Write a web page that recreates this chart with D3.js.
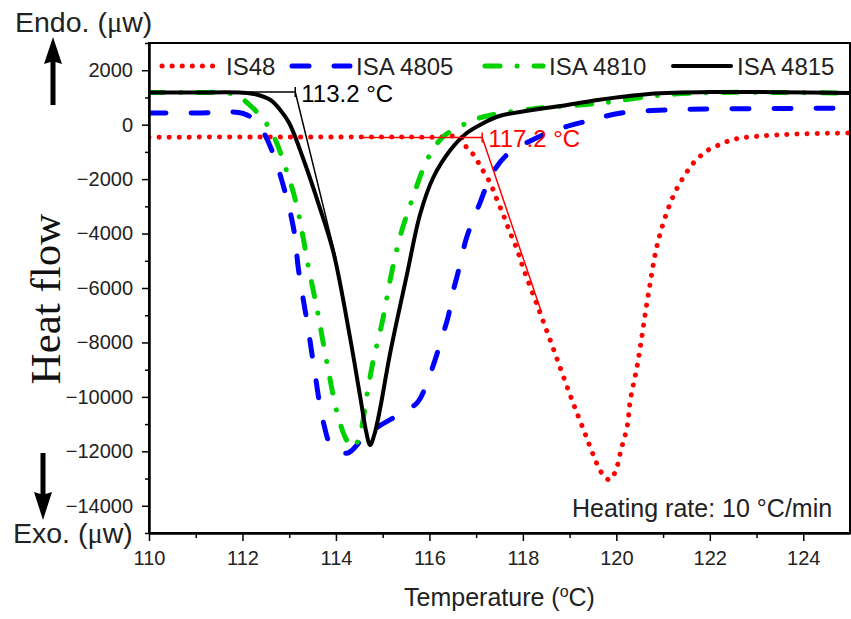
<!DOCTYPE html>
<html>
<head>
<meta charset="utf-8">
<script src="https://cdn.jsdelivr.net/npm/d3@7"></script>
<style>
  body { margin: 0; background: #fff; }
  text { font-family: "Liberation Sans", Arial, sans-serif; }
</style>
</head>
<body>
<svg id="chart" width="851" height="619"></svg>
<script>
// ---- data ----
const is48Temp = [110, 116.0, 116.7, 116.8, 116.95, 117.1, 117.3, 117.45, 117.6, 117.73, 117.88, 118.0, 118.37, 118.73, 119.07, 119.32, 119.5, 119.69, 119.86, 119.99, 120.1, 120.23, 120.3, 120.45, 120.7, 120.9, 121.2, 121.4, 121.65, 121.8, 122.0, 122.25, 122.45, 122.67, 123.1, 123.85, 125];
const is48Flow = [-460, -460, -480, -857, -1115, -1555, -2143, -2768, -3392, -3980, -4605, -5230, -6920, -8600, -10200, -11300, -12100, -12800, -13050, -12690, -11950, -11110, -10115, -8830, -6075, -4237, -2694, -2033, -1408, -1151, -894, -710, -564, -490, -416, -343, -306];

const isa4805Temp = [110, 111, 112.0, 112.3, 112.6, 112.9, 113.1, 113.2, 113.4, 113.55, 113.72, 113.93, 114.25, 114.6, 114.9, 115.44, 115.75, 115.97, 116.12, 116.27, 116.4, 116.5, 116.61, 116.8, 117.08, 117.35, 117.7, 118.2, 118.7, 119.3, 120.1, 121.1, 122.1, 125];
const isa4805Flow = [428, 428, 420, 98, -820, -2400, -3870, -5340, -7433, -9123, -10850, -11880, -12060, -11475, -11100, -10560, -10190, -9380, -8650, -7800, -7066, -6184, -5450, -4130, -2880, -1776, -1041, -563, -196, 98, 428, 540, 575, 610];

const isa4810Temp = [110, 111, 111.8, 112.2, 112.6, 112.96, 113.17, 113.3, 113.4, 113.6, 113.8, 114.05, 114.25, 114.38, 114.52, 114.67, 114.8, 115.0, 115.16, 115.37, 115.65, 115.95, 116.29, 116.8, 117.14, 118.2, 119.6, 121.0, 122.1, 123.5, 125];
const isa4810Flow = [1180, 1180, 1120, 649, -196, -1776, -3025, -4164, -5120, -6810, -8680, -10740, -11650, -11850, -11330, -9860, -8646, -7176, -5707, -4127, -2657, -1298, -453, 61, 281, 580, 780, 1090, 1180, 1180, 1163];

const isa4815Temp = [110, 111, 112, 112.3, 112.6, 112.8, 113.0, 113.3, 113.65, 113.95, 114.3, 114.52, 114.65, 114.73, 114.82, 114.94, 115.16, 115.52, 115.8, 116.08, 116.45, 116.8, 117.16, 117.5, 118.2, 118.95, 119.6, 120.7, 122.1, 123.5, 125];
const isa4815Flow = [1180, 1180, 1175, 1110, 906, 560, 61, -1250, -3025, -4715, -7800, -10005, -11300, -11770, -11400, -10480, -8390, -5500, -3300, -1950, -930, -306, 61, 318, 540, 722, 906, 1126, 1200, 1190, 1163];

const seriesNames = ["IS48", "ISA 4805", "ISA 4810", "ISA 4815"];
const xTicks = [110, 112, 114, 116, 118, 120, 122, 124];
const yTicks = [2000, 0, -2000, -4000, -6000, -8000, -10000, -12000, -14000];

// onset tangents: [temperature, heat flow] pairs
const onset4815 = [[110, 1200], [113.13, 1200], [114.0, -4900]];
const onset48 = [[114.56, -470], [117.13, -470], [118.4, -6900]];
const onsetLabels = ["113.2 °C", "117.2 °C"];

// ---- layout ----
const svg = d3.select("#chart");
const pLeft = 149, pRight = 850, pTop = 43, pBottom = 533;

const x = d3.scaleLinear().domain([110, 125]).range([pLeft, pRight]);
const y = d3.scaleLinear().domain([-15000, 3000]).range([pBottom, pTop]);

const series = [
  { name: seriesNames[0], t: is48Temp, v: is48Flow, color: "#ff0000", dash: "0.1,10", width: 5 },
  { name: seriesNames[1], t: isa4805Temp, v: isa4805Flow, color: "#0000ff", dash: "17,25", width: 5 },
  { name: seriesNames[2], t: isa4810Temp, v: isa4810Flow, color: "#00d200", dash: "15,17,0.1,17", width: 5 },
  { name: seriesNames[3], t: isa4815Temp, v: isa4815Flow, color: "#000000", dash: null, width: 4 }
];

svg.append("defs").append("clipPath").attr("id", "plotclip")
  .append("rect").attr("x", pLeft).attr("y", pTop)
  .attr("width", pRight - pLeft).attr("height", pBottom - pTop);

// curves
const line = d3.line()
  .x(d => x(d[0]))
  .y(d => y(d[1]))
  .curve(d3.curveCatmullRom.alpha(0.5));

const plot = svg.append("g").attr("clip-path", "url(#plotclip)");
plot.selectAll("path.series").data(series).join("path")
  .attr("class", "series")
  .attr("d", d => line(d3.zip(d.t, d.v)))
  .attr("fill", "none")
  .attr("stroke", d => d.color)
  .attr("stroke-width", d => d.width)
  .attr("stroke-linecap", "round")
  .attr("stroke-linejoin", "round")
  .attr("stroke-dasharray", d => d.dash);

// onset tangents
const straight = d3.line().x(d => x(d[0])).y(d => y(d[1]));
const onsets = [
  { pts: onset4815, color: "#000", label: onsetLabels[0] },
  { pts: onset48, color: "#ff0000", label: onsetLabels[1] }
];
onsets.forEach(o => {
  plot.append("path").attr("d", straight(o.pts))
    .attr("fill", "none").attr("stroke", o.color).attr("stroke-width", 1.5);
  const cx = x(o.pts[1][0]), cy = y(o.pts[1][1]);
  plot.append("line").attr("x1", cx).attr("x2", cx).attr("y1", cy - 5).attr("y2", cy + 5)
    .attr("stroke", o.color).attr("stroke-width", 1.5);
  svg.append("text").attr("x", cx + 6).attr("y", cy + 10)
    .attr("font-size", 24).attr("fill", o.color).text(o.label);
});

// frame
svg.append("rect").attr("x", pLeft).attr("y", pTop)
  .attr("width", pRight - pLeft).attr("height", pBottom - pTop)
  .attr("fill", "none").attr("stroke", "#000").attr("stroke-width", 2);

// axes
const xAxis = svg.append("g").attr("transform", `translate(0,${pBottom})`)
  .call(d3.axisBottom(x).tickValues(xTicks).tickSize(8).tickSizeOuter(0).tickPadding(10).tickFormat(d3.format("d")));
const xMinor = svg.append("g").attr("transform", `translate(0,${pBottom})`)
  .call(d3.axisBottom(x).tickValues(d3.range(111, 125, 2)).tickSize(5).tickSizeOuter(0).tickFormat(""));
const yAxis = svg.append("g").attr("transform", `translate(${pLeft},0)`)
  .call(d3.axisLeft(y).tickValues(yTicks).tickSize(7).tickSizeOuter(0).tickPadding(9).tickFormat(d3.format("d")));
const yMinor = svg.append("g").attr("transform", `translate(${pLeft},0)`)
  .call(d3.axisLeft(y).tickValues(d3.range(-15000, 3001, 2000)).tickSize(4).tickSizeOuter(0).tickFormat(""));

[xAxis, xMinor, yAxis, yMinor].forEach(g => {
  g.select(".domain").attr("stroke-width", 2);
  g.selectAll(".tick line").attr("stroke-width", 1.5);
  g.selectAll("text").attr("font-size", 20)
    .attr("font-family", '"Liberation Sans", Arial, sans-serif').attr("fill", "#222");
});

// axis titles
const xt = svg.append("text").attr("x", (pLeft + pRight) / 2).attr("y", 606)
  .attr("text-anchor", "middle").attr("font-size", 25).attr("fill", "#222");
xt.append("tspan").text("Temperature (");
xt.append("tspan").attr("font-size", 16).attr("dy", -9).text("o");
xt.append("tspan").attr("dy", 9).text("C)");

svg.append("text").attr("transform", "translate(60,299) rotate(-90)")
  .attr("text-anchor", "middle").attr("font-size", 43)
  .style("font-family", '"Liberation Serif", "Times New Roman", serif')
  .attr("fill", "#111").text("Heat flow");

function unitLabel(xp, yp, word) {
  const t = svg.append("text").attr("x", xp).attr("y", yp).attr("font-size", 28.5).attr("fill", "#222");
  t.append("tspan").text(word + " (");
  t.append("tspan").style("font-family", '"Liberation Serif", serif').text("μ");
  t.append("tspan").text("w)");
}
unitLabel(15, 32, "Endo.");
unitLabel(13, 543, "Exo.");

// arrows
svg.append("path").attr("d", "M50.5,105 L50.5,62 L44,64 L53,37 L62,64 L55.5,62 L55.5,105 Z").attr("fill", "#000");
svg.append("path").attr("d", "M40.5,453 L40.5,494 L34,492 L43,520 L52,492 L45.5,494 L45.5,453 Z").attr("fill", "#000");

// legend
const legendX = [162, 292, 485, 673];
const legendY = 66;
const leg = svg.selectAll("g.legend").data(series).join("g")
  .attr("class", "legend")
  .attr("transform", (d, i) => `translate(${legendX[i]},${legendY})`);
leg.append("line").attr("x1", 0).attr("x2", 58).attr("y1", 0).attr("y2", 0)
  .attr("stroke", d => d.color).attr("stroke-width", d => d.width)
  .attr("stroke-linecap", "round").attr("stroke-dasharray", d => d.dash);
leg.append("text").attr("x", 64).attr("y", 8.5).attr("font-size", 24).attr("fill", "#222")
  .text(d => d.name);

svg.append("text").attr("x", 572).attr("y", 517).attr("font-size", 25).attr("fill", "#222")
  .text("Heating rate: 10 °C/min");
</script>
</body>
</html>
